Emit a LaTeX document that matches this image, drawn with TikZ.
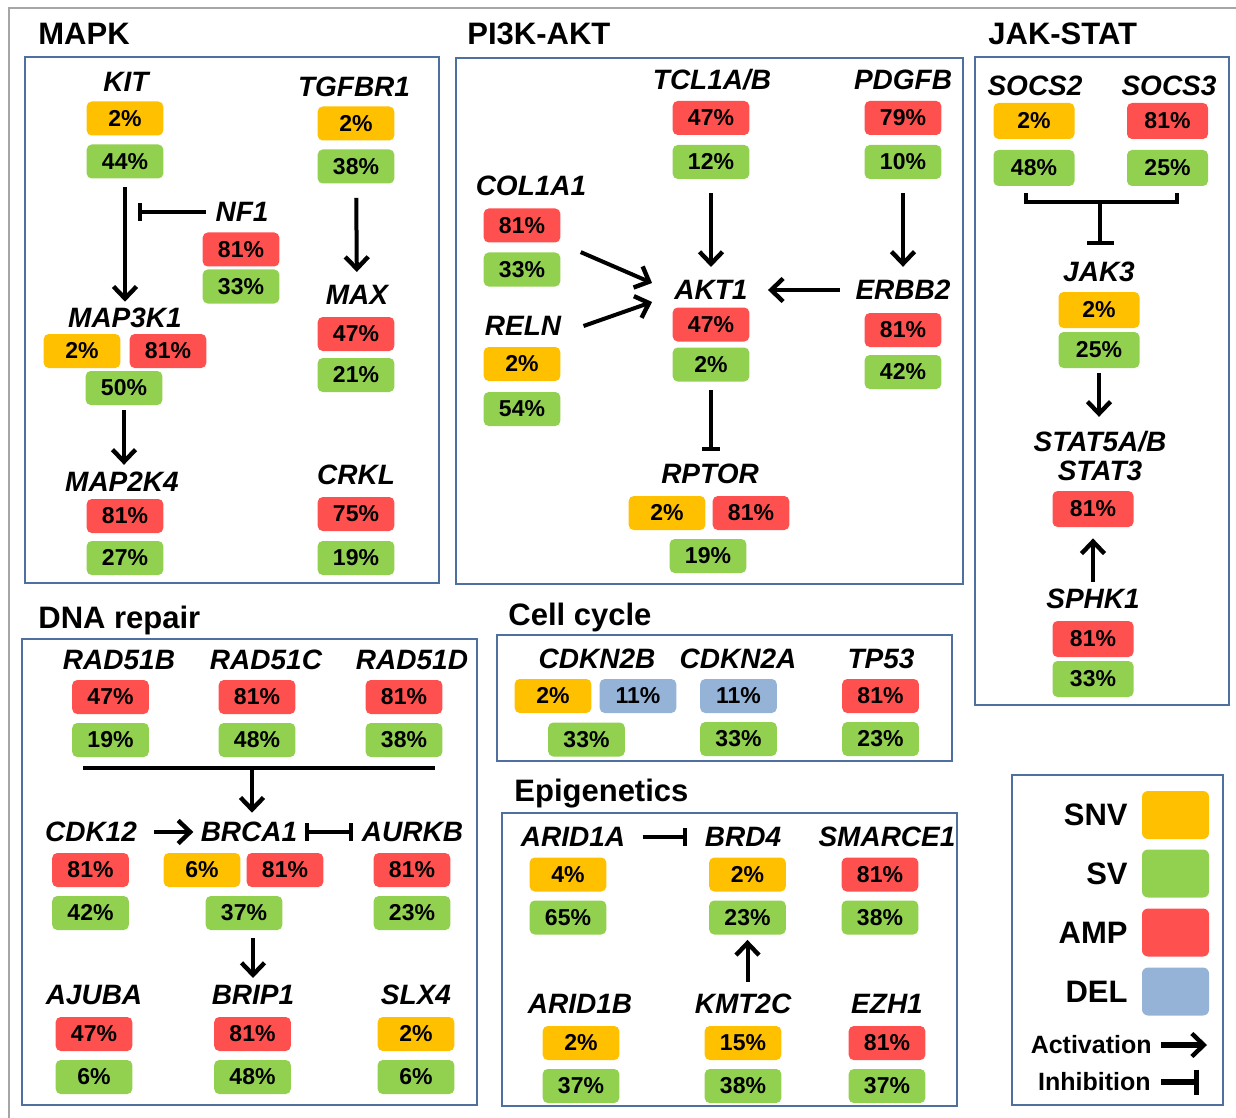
\documentclass[tikz,border=0pt]{standalone}
\usepackage{fontspec}
\setmainfont{Liberation Sans}
\usetikzlibrary{arrows.meta}
\definecolor{snvcol}{HTML}{FFC000}
\definecolor{svcol}{HTML}{92D050}
\definecolor{ampcol}{HTML}{FF5050}
\definecolor{delcol}{HTML}{95B3D7}
\definecolor{panelcol}{HTML}{4F6F9F}
\definecolor{framecol}{HTML}{A6A6A6}
\tikzstyle{gene} = [inner sep=0pt, font=\fontsize{14}{14.5}\selectfont\bfseries\itshape]
\tikzstyle{heading} = [inner sep=0pt, anchor=base west, font=\fontsize{15.5}{16}\selectfont\bfseries]
\tikzstyle{pct} = [rectangle, rounded corners=2.5pt, minimum width=38.3pt, minimum height=17pt, inner sep=0pt, font=\fontsize{11.5}{12}\selectfont\bfseries]
\tikzstyle{wide} = [minimum width=40.5pt, minimum height=18pt]
\tikzstyle{snv} = [pct, fill=snvcol]
\tikzstyle{sv} = [pct, fill=svcol]
\tikzstyle{amp} = [pct, fill=ampcol]
\tikzstyle{del} = [pct, fill=delcol]
\tikzstyle{panel} = [draw=panelcol, line width=0.9pt]
\tikzstyle{plain} = [line width=2pt]
\tikzstyle{act} = [plain, -{Straight Barb[length=6pt,width=11.5pt,line width=2.2pt]}]
\tikzstyle{inh} = [plain, -{Bar[width=9pt]}]
\tikzstyle{keybox} = [rectangle, rounded corners=3pt, minimum width=33.5pt, minimum height=24pt, inner sep=0pt]
\tikzstyle{keytext} = [inner sep=0pt, anchor=east, font=\fontsize{15.5}{16}\selectfont\bfseries]
\tikzstyle{keysmall} = [inner sep=0pt, anchor=east, font=\fontsize{12.5}{13}\selectfont\bfseries]

\begin{document}
\begin{tikzpicture}[x=0.5pt, y=-0.5pt, node distance=21.5pt]
	\useasboundingbox (0,0) rectangle (1236,1118);
	\draw [framecol, line width=1.3pt] (9,1118) -- (9,8) -- (1236,8);

	% panels
	\draw [panel] (25,57) rectangle (439,583);
	\draw [panel] (456,58) rectangle (963,584);
	\draw [panel] (975,57) rectangle (1229,705);
	\draw [panel] (22,639) rectangle (477,1105);
	\draw [panel] (497,635) rectangle (952,761);
	\draw [panel] (502,813) rectangle (957,1106);
	\draw [panel] (1012,775) rectangle (1223,1105);
	\node [heading] (mapkt) at (38,45) {MAPK};
	\node [heading] (pi3kt) at (467,45) {PI3K-AKT};
	\node [heading] (jakt) at (988,45) {JAK-STAT};
	\node [heading] (dnat) at (38,628) {DNA repair};
	\node [heading] (cellt) at (508,625) {Cell cycle};
	\node [heading] (epit) at (514,801) {Epigenetics};

	% MAPK
	\node [gene] (kit) at (126,82) {KIT};
	\node [snv] (kit1) at (125,118.5) {2\%};
	\node [sv, below of=kit1] (kit2) {44\%};
	\node [gene] (tgfbr1) at (354,86.5) {TGFBR1};
	\node [snv] (tgfbr1a) at (356,123.5) {2\%};
	\node [sv, below of=tgfbr1a] (tgfbr1b) {38\%};
	\node [gene] (nf1) at (242,212) {NF1};
	\node [amp] (nf1a) at (241,249.5) {81\%};
	\node [sv, below of=nf1a, node distance=18.5pt] (nf1b) {33\%};
	\node [gene] (map3k1) at (125,318) {MAP3K1};
	\node [snv] (map3k1a) at (82,351) {2\%};
	\node [amp] (map3k1b) at (168,351) {81\%};
	\node [sv] (map3k1c) at (124,388) {50\%};
	\node [gene] (map2k4) at (122,482) {MAP2K4};
	\node [amp] (map2k4a) at (125,516) {81\%};
	\node [sv, below of=map2k4a, node distance=21pt] (map2k4b) {27\%};
	\node [gene] (max) at (357,295) {MAX};
	\node [amp] (maxa) at (356,334) {47\%};
	\node [sv, below of=maxa, node distance=20.5pt] (maxb) {21\%};
	\node [gene] (crkl) at (356,475) {CRKL};
	\node [amp] (crkla) at (356,514) {75\%};
	\node [sv, below of=crkla, node distance=22pt] (crklb) {19\%};
	\coordinate (nf1end) at (138,212);

	\draw [act, shorten <=4pt, shorten >=3pt] (kit2) -- (map3k1);
	\draw [inh, shorten <=4.5pt] (nf1) -- (nf1end);
	\draw [act, shorten <=7pt, shorten >=6.5pt] (tgfbr1b) -- (max);
	\draw [act, shorten <=2.5pt, shorten >=3.5pt] (map3k1c) -- (map3k1c |- map2k4.north);

	% PI3K-AKT
	\node [gene] (tcl1) at (712,80) {TCL1A/B};
	\node [amp] (tcl1a) at (711,118) {47\%};
	\node [sv, below of=tcl1a, node distance=22pt] (tcl1b) {12\%};
	\node [gene] (pdgfb) at (903,80) {PDGFB};
	\node [amp] (pdgfba) at (903,118) {79\%};
	\node [sv, below of=pdgfba, node distance=22pt] (pdgfbb) {10\%};
	\node [gene] (col1a1) at (531,186) {COL1A1};
	\node [amp] (col1a1a) at (522,225.5) {81\%};
	\node [sv, below of=col1a1a, node distance=22pt] (col1a1b) {33\%};
	\node [gene] (reln) at (523,326) {RELN};
	\node [snv] (relna) at (522,364) {2\%};
	\node [sv, below of=relna, node distance=22.5pt] (relnb) {54\%};
	\node [gene] (akt1) at (711,290) {AKT1};
	\node [amp] (akt1a) at (711,324.5) {47\%};
	\node [sv, below of=akt1a, node distance=20pt] (akt1b) {2\%};
	\node [gene] (erbb2) at (903,290) {ERBB2};
	\node [amp] (erbb2a) at (903,330) {81\%};
	\node [sv, below of=erbb2a, node distance=21pt] (erbb2b) {42\%};
	\node [gene] (rptor) at (710,474) {RPTOR};
	\node [snv] (rptora) at (667,513) {2\%};
	\node [amp] (rptorb) at (751,513) {81\%};
	\node [sv] (rptorc) at (708,556) {19\%};

	\draw [act, shorten <=7pt, shorten >=6.5pt] (tcl1b) -- (akt1);
	\draw [act, shorten <=7pt, shorten >=6.5pt] (pdgfbb) -- (erbb2);
	\draw [act, shorten <=7.5pt, shorten >=10pt] (erbb2) -- (akt1);
	\draw [act] ([xshift=10pt]col1a1b.north east) -- ([xshift=-11pt, yshift=3.5pt]akt1.west);
	\draw [act] ([xshift=11pt]reln.east) -- ([xshift=-11pt, yshift=-6pt]akt1.west);
	\draw [inh, shorten <=4pt, shorten >=6.5pt] (akt1b) -- (akt1b |- rptor.north);

	% JAK-STAT
	\node [gene] (socs2) at (1035,86) {SOCS2};
	\node [snv, wide] (socs2a) at (1034,121) {2\%};
	\node [sv, wide, below of=socs2a, node distance=23.5pt] (socs2b) {48\%};
	\node [gene] (socs3) at (1169,86) {SOCS3};
	\node [amp, wide] (socs3a) at (1167.5,121) {81\%};
	\node [sv, wide, below of=socs3a, node distance=23.5pt] (socs3b) {25\%};
	\node [gene] (jak3) at (1099,271.5) {JAK3};
	\node [snv, wide] (jak3a) at (1099,310) {2\%};
	\node [sv, wide, below of=jak3a, node distance=20pt] (jak3b) {25\%};
	\node [gene, align=center] (stat) at (1100,456) {STAT5A/B\\STAT3};
	\node [amp, wide] (stata) at (1093,509) {81\%};
	\node [gene] (sphk1) at (1093,599) {SPHK1};
	\node [amp, wide] (sphk1a) at (1093,639) {81\%};
	\node [sv, wide, below of=sphk1a, node distance=20pt] (sphk1b) {33\%};
	\coordinate (socsl) at (1026,193);
	\coordinate (socsm) at (1100,202);
	\coordinate (socsr) at (1177,193);

	\draw [plain] (socsl) |- (socsm) -| (socsr);
	\draw [plain, -{Bar[width=13.5pt]}, shorten >=8pt] (socsm) -- (socsm |- jak3.north);
	\draw [act, shorten <=2.5pt, shorten >=7pt] (jak3b) -- (jak3b |- stat.north);
	\draw [act, shorten <=3.5pt, shorten >=5.5pt] (sphk1) -- (stata);

	% Cell cycle
	\node [gene] (cdkn2b) at (597,659) {CDKN2B};
	\node [snv] (cdkn2ba) at (553,696) {2\%};
	\node [del] (cdkn2bb) at (638,696) {11\%};
	\node [sv] (cdkn2bc) at (586.5,739.5) {33\%};
	\node [gene] (cdkn2a) at (738,659) {CDKN2A};
	\node [del] (cdkn2aa) at (738.5,696) {11\%};
	\node [sv, below of=cdkn2aa] (cdkn2ab) {33\%};
	\node [gene] (tp53) at (881,659) {TP53};
	\node [amp] (tp53a) at (880.5,696) {81\%};
	\node [sv, below of=tp53a] (tp53b) {23\%};

	% Epigenetics
	\node [gene] (arid1a) at (573,837) {ARID1A};
	\node [snv] (arid1aa) at (568,874.5) {4\%};
	\node [sv, below of=arid1aa] (arid1ab) {65\%};
	\node [gene] (brd4) at (743,837) {BRD4};
	\node [snv] (brd4a) at (747.5,874.5) {2\%};
	\node [sv, below of=brd4a] (brd4b) {23\%};
	\node [gene] (smarce1) at (887,837) {SMARCE1};
	\node [amp] (smarce1a) at (880,874.5) {81\%};
	\node [sv, below of=smarce1a] (smarce1b) {38\%};
	\node [gene] (arid1b) at (580,1004) {ARID1B};
	\node [snv] (arid1ba) at (581,1043) {2\%};
	\node [sv, below of=arid1ba] (arid1bb) {37\%};
	\node [gene] (kmt2c) at (743,1004) {KMT2C};
	\node [snv] (kmt2ca) at (743,1043) {15\%};
	\node [sv, below of=kmt2ca] (kmt2cb) {38\%};
	\node [gene] (ezh1) at (887,1004) {EZH1};
	\node [amp] (ezh1a) at (887,1043) {81\%};
	\node [sv, below of=ezh1a] (ezh1b) {37\%};

	\draw [inh, shorten <=8.5pt, shorten >=8.5pt] (arid1a) -- (brd4);
	\draw [act, shorten <=6pt, shorten >=2.5pt] (brd4b |- kmt2c.north) -- (brd4b);

	% DNA repair
	\node [gene] (rad51b) at (119,660) {RAD51B};
	\node [amp] (rad51ba) at (110.5,697) {47\%};
	\node [sv, below of=rad51ba] (rad51bb) {19\%};
	\node [gene] (rad51c) at (266,660) {RAD51C};
	\node [amp] (rad51ca) at (257,697) {81\%};
	\node [sv, below of=rad51ca] (rad51cb) {48\%};
	\node [gene] (rad51d) at (412,660) {RAD51D};
	\node [amp] (rad51da) at (404,697) {81\%};
	\node [sv, below of=rad51da] (rad51db) {38\%};
	\node [gene] (cdk12) at (91,832) {CDK12};
	\node [amp] (cdk12a) at (90.5,870) {81\%};
	\node [sv, below of=cdk12a] (cdk12b) {42\%};
	\node [gene] (brca1) at (249,832) {BRCA1};
	\node [snv] (brca1a) at (202,870) {6\%};
	\node [amp] (brca1b) at (285,870) {81\%};
	\node [sv] (brca1c) at (244,913) {37\%};
	\node [gene] (aurkb) at (412.5,832) {AURKB};
	\node [amp] (aurkba) at (412,870) {81\%};
	\node [sv, below of=aurkba] (aurkbb) {23\%};
	\node [gene] (ajuba) at (94,995) {AJUBA};
	\node [amp] (ajubaa) at (94,1034) {47\%};
	\node [sv, below of=ajubaa] (ajubab) {6\%};
	\node [gene] (brip1) at (253,995) {BRIP1};
	\node [amp] (brip1a) at (252.5,1034) {81\%};
	\node [sv, below of=brip1a] (brip1b) {48\%};
	\node [gene] (slx4) at (416,995) {SLX4};
	\node [snv] (slx4a) at (416,1034) {2\%};
	\node [sv, below of=slx4a] (slx4b) {6\%};
	\coordinate (radl) at (83,768);
	\coordinate (radm) at (252,768);
	\coordinate (radr) at (435,768);

	\draw [plain] (radl) -- (radr);
	\draw [act, shorten >=4.5pt] (radm) -- (radm |- brca1.north);
	\draw [act, shorten <=8.5pt, shorten >=3.5pt] (cdk12) -- (brca1);
	\draw [plain, {Bar[width=9pt]}-{Bar[width=9pt]}, shorten <=3.5pt, shorten >=4.5pt] (brca1) -- (aurkb);
	\draw [act, shorten <=4pt, shorten >=3.5pt] (brip1 |- brca1c.south) -- (brip1);

	% legend
	\node [keybox, fill=snvcol] (snvkey) at (1175.5,815) {};
	\node [keybox, fill=svcol] (svkey) at (1175.5,873.5) {};
	\node [keybox, fill=ampcol] (ampkey) at (1175.5,932.5) {};
	\node [keybox, fill=delcol] (delkey) at (1175.5,991.5) {};
	\node [keytext] (snvlab) at (1128,815) {SNV};
	\node [keytext] (svlab) at (1128,873.5) {SV};
	\node [keytext] (amplab) at (1128,932.5) {AMP};
	\node [keytext] (dellab) at (1128,991.5) {DEL};
	\node [keysmall] (actlab) at (1152,1045) {Activation};
	\node [keysmall] (inhlab) at (1151,1082) {Inhibition};
	\coordinate (actend) at (1207,1045);
	\coordinate (inhend) at (1199,1082);

	\draw [act, line width=2.6pt, shorten <=4.5pt] (actlab) -- (actend);
	\draw [plain, line width=2.6pt, -{Bar[width=12.5pt]}, shorten <=5pt] (inhlab) -- (inhend);
\end{tikzpicture}
\end{document}
